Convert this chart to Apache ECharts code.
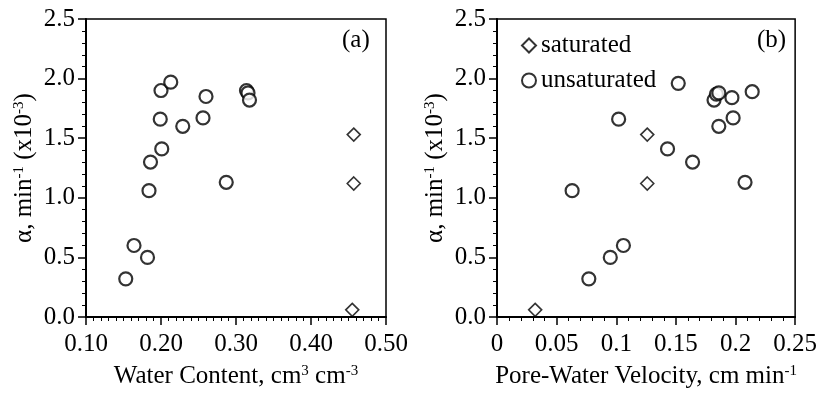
<!DOCTYPE html>
<html>
<head>
<meta charset="utf-8">
<script src="https://cdn.jsdelivr.net/npm/echarts@6/dist/echarts.min.js"></script>
<style>
  html, body { margin: 0; padding: 0; background: #fff; }
  #chart { width: 820px; height: 394px; }
</style>
</head>
<body>
<div id="chart"></div>
<script>
// panel (a): water content vs alpha
const wcUnsat = [0.153, 0.164, 0.182, 0.184, 0.186, 0.201, 0.199, 0.200, 0.213, 0.229, 0.256, 0.260, 0.287, 0.314, 0.316, 0.318];
const alphaUnsatA = [0.32, 0.60, 0.50, 1.06, 1.30, 1.41, 1.66, 1.90, 1.97, 1.60, 1.67, 1.85, 1.13, 1.90, 1.88, 1.82];
const wcSat = [0.457, 0.457, 0.455];
const alphaSatA = [1.53, 1.12, 0.06];

// panel (b): pore-water velocity vs alpha
const velUnsat = [0.077, 0.106, 0.095, 0.063, 0.164, 0.143, 0.102, 0.152, 0.186, 0.198, 0.182, 0.184, 0.208, 0.197, 0.214, 0.186];
const alphaUnsatB = [0.32, 0.60, 0.50, 1.06, 1.30, 1.41, 1.66, 1.96, 1.60, 1.67, 1.82, 1.87, 1.13, 1.84, 1.89, 1.88];
const velSat = [0.032, 0.126, 0.126];
const alphaSatB = [0.06, 1.12, 1.53];

const FONT = "Liberation Serif";
const FS = 25;
const pairs = (xs, ys) => xs.map((x, i) => [x, ys[i]]);

const chart = echarts.init(document.getElementById("chart"));

const richName = {
  a: { fontFamily: FONT, fontSize: FS, color: "#000" },
  s: { fontFamily: FONT, fontSize: 15, color: "#000", verticalAlign: "top", padding: [0, 0, 10, 0] }
};

function xAxisFor(idx, min, max, interval, split, name, fmt) {
  return {
    gridIndex: idx,
    type: "value",
    min: min, max: max, interval: interval,
    name: name,
    nameLocation: "middle",
    nameGap: 47,
    nameTextStyle: { rich: richName },
    axisLine: { show: true, onZero: false, lineStyle: { color: "#000", width: 2 } },
    axisTick: { show: true, inside: false, length: 8, lineStyle: { color: "#000", width: 1.5 } },
    minorTick: { show: true, splitNumber: split, length: 4, lineStyle: { color: "#000", width: 1 } },
    axisLabel: { color: "#000", fontFamily: FONT, fontSize: FS, margin: 15, formatter: fmt },
    splitLine: { show: false }
  };
}

function yAxisFor(idx) {
  return {
    gridIndex: idx,
    type: "value",
    min: 0, max: 2.5, interval: 0.5,
    name: "{a|α, min}{s|-1}{a| (x10}{s|-3}{a|)}",
    nameLocation: "middle",
    nameGap: 49,
    nameTextStyle: { rich: richName },
    axisLine: { show: true, onZero: false, lineStyle: { color: "#000", width: 2 } },
    axisTick: { show: true, inside: false, length: 8, lineStyle: { color: "#000", width: 1.5 } },
    minorTick: { show: true, splitNumber: 5, length: 4, lineStyle: { color: "#000", width: 1 } },
    axisLabel: { color: "#000", fontFamily: FONT, fontSize: FS, margin: 11, formatter: v => v.toFixed(1) },
    splitLine: { show: false }
  };
}

const circleStyle = { color: "#fff", borderColor: "#000", borderWidth: 2.2 };
const diamondStyle = { color: "#fff", borderColor: "#000", borderWidth: 1.6 };

const option = {
  backgroundColor: "#fff",
  animation: false,
  textStyle: { fontFamily: FONT },
  grid: [
    { left: 86, right: 434, top: 19, bottom: 76, show: true, borderColor: "#000", borderWidth: 1.5, backgroundColor: "transparent" },
    { left: 497, right: 24, top: 19, bottom: 75, show: true, borderColor: "#000", borderWidth: 1.5, backgroundColor: "transparent" }
  ],
  xAxis: [
    xAxisFor(0, 0.1, 0.5, 0.1, 10, "{a|Water Content, cm}{s|3}{a| cm}{s|-3}", v => v.toFixed(2)),
    xAxisFor(1, 0, 0.25, 0.05, 5, "{a|Pore-Water Velocity, cm min}{s|-1}", v => String(+v.toFixed(2)))
  ],
  yAxis: [yAxisFor(0), yAxisFor(1)],
  legend: {
    orient: "vertical",
    left: 516,
    top: 28,
    itemWidth: 14,
    itemHeight: 14,
    itemGap: 10,
    textStyle: { fontFamily: FONT, fontSize: FS, color: "#000" },
    data: [
      { name: "saturated", icon: "diamond" },
      { name: "unsaturated", icon: "circle" }
    ]
  },
  graphic: [
    { type: "text", left: 342, top: 28, style: { text: "(a)", fontFamily: FONT, fontSize: FS, fill: "#000" } },
    { type: "text", left: 757, top: 28, style: { text: "(b)", fontFamily: FONT, fontSize: FS, fill: "#000" } }
  ],
  series: [
    { name: "unsaturated", type: "scatter", xAxisIndex: 0, yAxisIndex: 0, symbol: "circle", symbolSize: 13, itemStyle: circleStyle, data: pairs(wcUnsat, alphaUnsatA) },
    { name: "saturated", type: "scatter", xAxisIndex: 0, yAxisIndex: 0, symbol: "diamond", symbolSize: [13, 13], itemStyle: diamondStyle, data: pairs(wcSat, alphaSatA) },
    { name: "unsaturated", type: "scatter", xAxisIndex: 1, yAxisIndex: 1, symbol: "circle", symbolSize: 13, itemStyle: circleStyle, data: pairs(velUnsat, alphaUnsatB) },
    { name: "saturated", type: "scatter", xAxisIndex: 1, yAxisIndex: 1, symbol: "diamond", symbolSize: [13, 13], itemStyle: diamondStyle, data: pairs(velSat, alphaSatB) }
  ]
};

chart.setOption(option);

window.addEventListener("resize", function () {
  chart.resize();
});
</script>
</body>
</html>
